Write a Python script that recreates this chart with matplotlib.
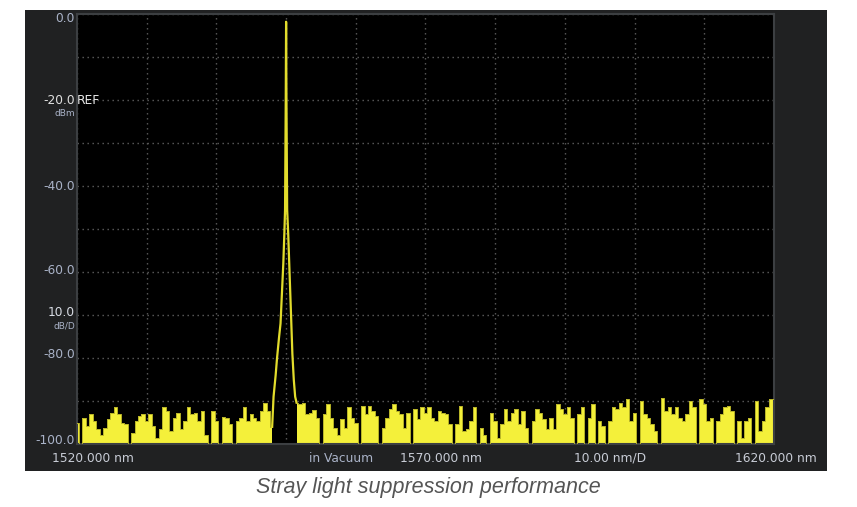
import numpy as np
import matplotlib
matplotlib.use("Agg")
import matplotlib.pyplot as plt
from matplotlib.patches import Rectangle

# ---------------- data ----------------
# noise floor, left of the laser line: 1520.0 .. 1548.0 nm, 0.5 nm steps
noise_left_start = 1520.0
noise_left_dbm = [
    -95.0, -100.0, -93.9, -95.8, -93.1, -94.7, -96.6, -97.8, -96.2, -94.3,
    -92.7, -91.5, -93.1, -95.0, -95.4, -100.0, -97.4, -94.7, -93.5, -93.1,
    -94.7, -93.1, -95.8, -98.5, -96.6, -91.4, -92.3, -97.0, -93.9, -92.7,
    -96.6, -94.7, -91.5, -93.1, -92.7, -94.7, -92.3, -97.8, -100.0, -92.3,
    -94.7, -100.0, -93.7, -93.9, -95.4, -100.0, -94.7, -93.9, -91.4, -94.7,
    -93.1, -93.9, -94.7, -92.3, -90.4, -92.3, -96.0,
]

# laser line (peak at 1550 nm)
peak_nm = [1548.0, 1548.2, 1548.5, 1548.7, 1549.0, 1549.2, 1549.4, 1549.6,
           1549.75, 1549.85, 1549.95, 1550.0, 1550.05, 1550.15, 1550.3,
           1550.45, 1550.6, 1550.75, 1550.9, 1551.1, 1551.3, 1551.5]
peak_dbm = [-96.0, -89.0, -84.0, -80.0, -75.0, -72.0, -65.0, -58.0,
            -51.0, -45.5, -20.0, -1.8, -20.0, -45.5, -51.0,
            -58.0, -65.0, -72.0, -79.0, -85.0, -89.0, -90.4]

# noise floor, right of the laser line: 1551.5 .. 1620.0 nm, 0.5 nm steps
noise_right_start = 1551.5
noise_right_dbm = [
    -90.4, -90.8, -90.4, -93.1, -92.7, -92.2, -93.9, -100.0, -93.1, -90.8,
    -93.9, -96.2, -97.8, -94.3, -96.2, -91.5, -93.9, -95.0, -100.0, -91.2,
    -93.1, -91.2, -92.3, -93.5, -100.0, -96.2, -93.9, -91.9, -90.8, -92.3,
    -93.1, -96.2, -92.7, -100.0, -91.9, -94.3, -91.5, -92.7, -91.5, -93.9,
    -94.7, -92.3, -92.7, -93.1, -95.4, -100.0, -95.4, -91.2, -97.0, -96.6,
    -94.7, -91.5, -100.0, -96.2, -97.8, -100.0, -92.7, -94.7, -98.5, -95.4,
    -91.9, -94.7, -92.7, -91.9, -95.4, -92.3, -96.2, -100.0, -94.7, -91.9,
    -92.7, -94.3, -96.6, -93.9, -96.6, -90.8, -91.9, -93.1, -91.5, -93.9,
    -100.0, -93.1, -91.5, -100.0, -93.9, -90.8, -100.0, -94.7, -95.8, -100.0,
    -94.7, -91.5, -91.9, -90.4, -91.5, -89.6, -94.7, -92.7, -100.0, -90.0,
    -93.1, -93.9, -95.4, -97.0, -100.0, -89.2, -92.3, -91.5, -93.1, -91.5,
    -93.9, -94.7, -93.1, -90.0, -91.5, -100.0, -89.6, -90.8, -94.7, -93.9,
    -100.0, -94.7, -93.1, -91.5, -91.2, -92.3, -100.0, -94.7, -98.5, -94.7,
    -93.9, -100.0, -90.0, -97.0, -94.7, -91.5, -89.6, -89.6,
]
step_nm = 0.5

y_ticks = [0, -20, -40, -60, -80, -100]
y_labels = ["0.0", "-20.0", "-40.0", "-60.0", "-80.0", "-100.0"]
x_range = (1520.0, 1620.0)
y_range = (-100.0, 0.0)

# ---------------- figure ----------------
W, H = 857, 507
fig = plt.figure(figsize=(W / 100, H / 100), dpi=100)
fig.patch.set_facecolor("white")

def fx(px):
    return px / W

def fy(py):
    return 1 - py / H

# dark instrument frame
fig.add_artist(Rectangle((fx(25), fy(471)), fx(827) - fx(25), fy(10) - fy(471),
                         transform=fig.transFigure, facecolor="#202122",
                         edgecolor="none", zorder=0))

ax = fig.add_axes([fx(77), fy(444), fx(774) - fx(77), fy(14) - fy(444)])
ax.set_facecolor("black")
ax.set_xlim(*x_range)
ax.set_ylim(*y_range)
ax.set_xticks(np.arange(1520, 1621, 10))
ax.set_yticks(np.arange(-100, 1, 10))
ax.grid(True, color="#5e5e5e", linestyle=(0, (1.0, 2.6)), linewidth=1.0)
ax.tick_params(length=0, labelleft=False, labelbottom=False)
for s in ax.spines.values():
    s.set_color("#3c3f42")
    s.set_linewidth(1.5)

yellow = "#f4f03a"
xl = noise_left_start + step_nm * np.arange(len(noise_left_dbm))
xr = noise_right_start + step_nm * np.arange(len(noise_right_dbm))
for xs, ys in ((xl, noise_left_dbm), (xr, noise_right_dbm)):
    ax.fill_between(xs, ys, -100, step="mid", color=yellow, linewidth=0, zorder=2)
    ax.step(xs, ys, where="mid", color="#b8b428", linewidth=0.7, zorder=3)
ax.plot(peak_nm, peak_dbm, color="#e2dc2c", linewidth=1.6, zorder=4)

# ---------------- instrument labels ----------------
lab = "#aab3c8"
fs = 8.8
ypix = {0: 18, -20: 101, -40: 186, -60: 271, -80: 355, -100: 440}
for v, t in zip(y_ticks, y_labels):
    fig.text(fx(75), fy(ypix[v]), t, ha="right", va="center", fontsize=fs,
             color="#e0e0e0" if v == -20 else lab)
fig.text(fx(77), fy(101), "REF", ha="left", va="center", fontsize=fs, color="#e8e8e8")
fig.text(fx(75), fy(113), "dBm", ha="right", va="center", fontsize=6.5, color=lab)
fig.text(fx(75), fy(313), "10.0", ha="right", va="center", fontsize=fs, color="#d8dce4")
fig.text(fx(75), fy(326), "dB/D", ha="right", va="center", fontsize=6.5, color=lab)

yb = fy(458)
fig.text(fx(52), yb, "1520.000 nm", ha="left", va="center", fontsize=fs, color="#c8ccd6")
fig.text(fx(309), yb, "in Vacuum", ha="left", va="center", fontsize=fs, color=lab)
fig.text(fx(400), yb, "1570.000 nm", ha="left", va="center", fontsize=fs, color="#c8ccd6")
fig.text(fx(574), yb, "10.00 nm/D", ha="left", va="center", fontsize=fs, color="#c8ccd6")
fig.text(fx(735), yb, "1620.000 nm", ha="left", va="center", fontsize=fs, color="#c8ccd6")

fig.text(fx(428), fy(488), "Stray light suppression performance", ha="center",
         va="center", fontsize=15.5, style="italic", color="#555555",
         family="Liberation Sans")

fig.savefig("out.png", dpi=100, facecolor="white")
